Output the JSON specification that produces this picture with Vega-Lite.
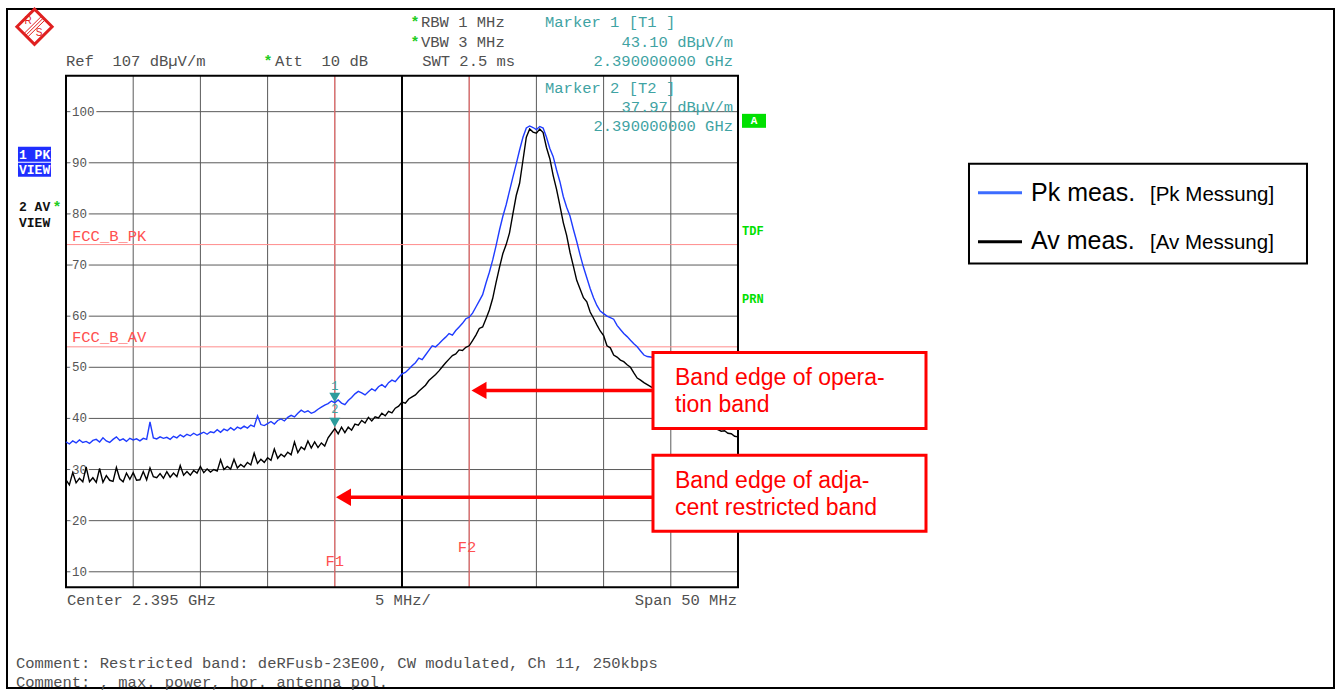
{
"$schema":"https://vega.github.io/schema/vega-lite/v6.json",
"width":1341,"height":691,
"autosize":{"type":"fit","contains":"padding"},
"padding":0,
"background":"white",
"config":{"view":{"stroke":null},"text":{"font":"Liberation Mono"}},
"datasets":{
"trace":[
{"f":2370.00,"pk":35.4,"av":28.0},{"f":2370.25,"pk":35.0,"av":27.0},{"f":2370.50,"pk":35.6,"av":29.4},{"f":2370.75,"pk":35.2,"av":27.4},
{"f":2371.00,"pk":35.8,"av":28.3},{"f":2371.25,"pk":35.3,"av":27.6},{"f":2371.50,"pk":35.5,"av":30.5},{"f":2371.75,"pk":35.1,"av":27.6},
{"f":2372.00,"pk":35.7,"av":28.4},{"f":2372.25,"pk":35.9,"av":27.5},{"f":2372.50,"pk":35.4,"av":30.2},{"f":2372.75,"pk":36.2,"av":27.5},
{"f":2373.00,"pk":35.6,"av":28.8},{"f":2373.25,"pk":35.3,"av":27.9},{"f":2373.50,"pk":35.9,"av":27.7},{"f":2373.75,"pk":36.4,"av":30.4},
{"f":2374.00,"pk":35.7,"av":28.2},{"f":2374.25,"pk":36.0,"av":27.6},{"f":2374.50,"pk":35.5,"av":29.3},{"f":2374.75,"pk":36.1,"av":28.1},
{"f":2375.00,"pk":35.8,"av":29.4},{"f":2375.25,"pk":36.0,"av":27.9},{"f":2375.50,"pk":35.6,"av":28.0},{"f":2375.75,"pk":36.1,"av":29.6},
{"f":2376.00,"pk":35.9,"av":28.0},{"f":2376.25,"pk":39.3,"av":30.3},{"f":2376.50,"pk":36.2,"av":28.6},{"f":2376.75,"pk":36.0,"av":28.4},
{"f":2377.00,"pk":36.4,"av":29.2},{"f":2377.25,"pk":36.1,"av":28.3},{"f":2377.50,"pk":36.3,"av":29.6},{"f":2377.75,"pk":35.9,"av":28.5},
{"f":2378.00,"pk":36.5,"av":29.3},{"f":2378.25,"pk":36.2,"av":28.6},{"f":2378.50,"pk":36.8,"av":30.8},{"f":2378.75,"pk":36.4,"av":28.9},
{"f":2379.00,"pk":36.9,"av":29.6},{"f":2379.25,"pk":36.6,"av":28.9},{"f":2379.50,"pk":37.1,"av":29.8},{"f":2379.75,"pk":36.7,"av":29.3},
{"f":2380.00,"pk":37.0,"av":30.6},{"f":2380.25,"pk":37.3,"av":29.4},{"f":2380.50,"pk":36.9,"av":30.1},{"f":2380.75,"pk":37.4,"av":29.5},
{"f":2381.00,"pk":37.2,"av":30.0},{"f":2381.25,"pk":37.8,"av":29.7},{"f":2381.50,"pk":37.3,"av":31.9},{"f":2381.75,"pk":37.9,"av":30.0},
{"f":2382.00,"pk":37.6,"av":30.6},{"f":2382.25,"pk":38.2,"av":30.1},{"f":2382.50,"pk":37.7,"av":32.0},{"f":2382.75,"pk":38.3,"av":30.3},
{"f":2383.00,"pk":38.0,"av":31.0},{"f":2383.25,"pk":38.5,"av":30.5},{"f":2383.50,"pk":38.1,"av":31.4},{"f":2383.75,"pk":38.7,"av":30.9},
{"f":2384.00,"pk":38.4,"av":33.2},{"f":2384.25,"pk":40.5,"av":31.2},{"f":2384.50,"pk":38.8,"av":32.0},{"f":2384.75,"pk":38.6,"av":31.4},
{"f":2385.00,"pk":39.0,"av":32.3},{"f":2385.25,"pk":39.4,"av":31.8},{"f":2385.50,"pk":38.9,"av":34.0},{"f":2385.75,"pk":39.6,"av":32.2},
{"f":2386.00,"pk":39.9,"av":33.0},{"f":2386.25,"pk":39.5,"av":32.5},{"f":2386.50,"pk":40.2,"av":33.4},{"f":2386.75,"pk":40.6,"av":32.9},
{"f":2387.00,"pk":40.3,"av":35.4},{"f":2387.25,"pk":41.0,"av":33.3},{"f":2387.50,"pk":41.6,"av":34.4},{"f":2387.75,"pk":41.2,"av":33.9},
{"f":2388.00,"pk":41.5,"av":35.6},{"f":2388.25,"pk":41.0,"av":34.2},{"f":2388.50,"pk":41.3,"av":35.4},{"f":2388.75,"pk":41.8,"av":34.3},
{"f":2389.00,"pk":42.2,"av":35.2},{"f":2389.25,"pk":42.6,"av":34.6},{"f":2389.50,"pk":42.9,"av":36.2},{"f":2389.75,"pk":43.4,"av":37.1},
{"f":2390.00,"pk":43.1,"av":38.0},{"f":2390.25,"pk":43.6,"av":37.0},{"f":2390.50,"pk":43.0,"av":38.3},{"f":2390.75,"pk":42.7,"av":37.2},
{"f":2391.00,"pk":43.5,"av":38.3},{"f":2391.25,"pk":44.1,"av":37.7},{"f":2391.50,"pk":44.8,"av":38.9},{"f":2391.75,"pk":45.3,"av":38.7},
{"f":2392.00,"pk":45.0,"av":39.6},{"f":2392.25,"pk":44.6,"av":39.1},{"f":2392.50,"pk":45.2,"av":40.2},{"f":2392.75,"pk":45.8,"av":39.5},
{"f":2393.00,"pk":45.4,"av":40.3},{"f":2393.25,"pk":46.2,"av":40.1},{"f":2393.50,"pk":46.6,"av":41.0},{"f":2393.75,"pk":46.1,"av":40.5},
{"f":2394.00,"pk":47.0,"av":41.4},{"f":2394.25,"pk":47.5,"av":41.1},{"f":2394.50,"pk":47.2,"av":42.0},{"f":2394.75,"pk":48.0,"av":42.4},
{"f":2395.00,"pk":48.7,"av":43.2},{"f":2395.25,"pk":49.0,"av":43.0},{"f":2395.50,"pk":49.6,"av":43.8},{"f":2395.75,"pk":50.3,"av":44.2},
{"f":2396.00,"pk":50.9,"av":44.6},{"f":2396.25,"pk":51.8,"av":45.3},{"f":2396.50,"pk":51.5,"av":45.9},{"f":2396.75,"pk":52.4,"av":46.5},
{"f":2397.00,"pk":53.3,"av":47.4},{"f":2397.25,"pk":54.2,"av":48.0},{"f":2397.50,"pk":54.0,"av":48.6},{"f":2397.75,"pk":54.6,"av":49.3},
{"f":2398.00,"pk":55.3,"av":50.1},{"f":2398.25,"pk":55.9,"av":50.9},{"f":2398.50,"pk":56.6,"av":51.6},{"f":2398.75,"pk":56.3,"av":52.3},
{"f":2399.00,"pk":57.2,"av":52.6},{"f":2399.25,"pk":57.9,"av":53.4},{"f":2399.50,"pk":58.6,"av":53.3},{"f":2399.75,"pk":59.5,"av":53.9},
{"f":2400.00,"pk":59.8,"av":54.2},{"f":2400.25,"pk":60.6,"av":55.2},{"f":2400.50,"pk":61.8,"av":56.3},{"f":2400.75,"pk":63.0,"av":57.6},
{"f":2401.00,"pk":64.2,"av":57.9},{"f":2401.25,"pk":66.5,"av":59.5},{"f":2401.50,"pk":68.6,"av":61.2},{"f":2401.75,"pk":71.0,"av":63.5},
{"f":2402.00,"pk":73.8,"av":66.6},{"f":2402.25,"pk":76.8,"av":69.5},{"f":2402.50,"pk":79.5,"av":72.2},{"f":2402.75,"pk":81.8,"av":74.0},
{"f":2403.00,"pk":84.5,"av":76.3},{"f":2403.25,"pk":87.2,"av":80.0},{"f":2403.50,"pk":89.8,"av":83.6},{"f":2403.75,"pk":92.5,"av":86.0},
{"f":2404.00,"pk":95.0,"av":90.5},{"f":2404.25,"pk":96.8,"av":95.0},{"f":2404.50,"pk":97.2,"av":96.6},{"f":2404.75,"pk":96.9,"av":96.0},
{"f":2405.00,"pk":96.5,"av":95.8},{"f":2405.25,"pk":97.1,"av":96.6},{"f":2405.50,"pk":96.8,"av":95.9},{"f":2405.75,"pk":95.0,"av":93.0},
{"f":2406.00,"pk":92.8,"av":90.8},{"f":2406.25,"pk":91.2,"av":87.5},{"f":2406.50,"pk":88.6,"av":84.8},{"f":2406.75,"pk":86.3,"av":81.6},
{"f":2407.00,"pk":83.4,"av":78.3},{"f":2407.25,"pk":81.3,"av":75.8},{"f":2407.50,"pk":79.6,"av":72.5},{"f":2407.75,"pk":77.0,"av":69.8},
{"f":2408.00,"pk":74.6,"av":67.0},{"f":2408.25,"pk":72.0,"av":65.3},{"f":2408.50,"pk":69.6,"av":63.6},{"f":2408.75,"pk":67.5,"av":62.8},
{"f":2409.00,"pk":65.4,"av":60.8},{"f":2409.25,"pk":63.6,"av":59.6},{"f":2409.50,"pk":62.1,"av":58.3},{"f":2409.75,"pk":61.0,"av":57.1},
{"f":2410.00,"pk":60.5,"av":56.2},{"f":2410.25,"pk":60.0,"av":54.2},{"f":2410.50,"pk":59.7,"av":53.8},{"f":2410.75,"pk":59.4,"av":52.4},
{"f":2411.00,"pk":58.2,"av":52.0},{"f":2411.25,"pk":57.4,"av":51.4},{"f":2411.50,"pk":56.6,"av":51.1},{"f":2411.75,"pk":56.0,"av":50.5},
{"f":2412.00,"pk":55.3,"av":50.0},{"f":2412.25,"pk":54.6,"av":48.9},{"f":2412.50,"pk":54.0,"av":47.9},{"f":2412.75,"pk":53.2,"av":47.5},
{"f":2413.00,"pk":52.4,"av":47.0},{"f":2413.25,"pk":52.1,"av":46.6},{"f":2413.50,"pk":52.0,"av":46.2},{"f":2413.75,"pk":51.9,"av":45.8},
{"f":2414.00,"pk":51.7,"av":45.0},{"f":2414.25,"pk":51.4,"av":44.6},{"f":2414.50,"pk":51.2,"av":44.0},{"f":2414.75,"pk":51.0,"av":43.3},
{"f":2415.00,"pk":50.7,"av":42.9},{"f":2415.25,"pk":50.4,"av":42.3},{"f":2415.50,"pk":50.2,"av":41.8},{"f":2415.75,"pk":49.9,"av":41.4},
{"f":2416.00,"pk":49.7,"av":40.9},{"f":2416.25,"pk":49.4,"av":40.5},{"f":2416.50,"pk":49.2,"av":40.1},{"f":2416.75,"pk":49.0,"av":39.8},
{"f":2417.00,"pk":48.8,"av":39.4},{"f":2417.25,"pk":48.6,"av":39.1},{"f":2417.50,"pk":48.4,"av":38.8},{"f":2417.75,"pk":48.2,"av":38.5},
{"f":2418.00,"pk":48.0,"av":38.3},{"f":2418.25,"pk":47.8,"av":38.0},{"f":2418.50,"pk":47.6,"av":37.8},{"f":2418.75,"pk":47.4,"av":37.5},
{"f":2419.00,"pk":47.2,"av":37.6},{"f":2419.25,"pk":47.0,"av":37.1},{"f":2419.50,"pk":46.8,"av":37.0},{"f":2419.75,"pk":46.6,"av":36.5},
{"f":2420.00,"pk":46.4,"av":36.4}
],
"ticks":[{"f":2370.446,"db":100,"t":"100"},{"f":2370.446,"db":90,"t":"90"},{"f":2370.446,"db":80,"t":"80"},{"f":2370.446,"db":70,"t":"70"},{"f":2370.446,"db":60,"t":"60"},{"f":2370.446,"db":50,"t":"50"},{"f":2370.446,"db":40,"t":"40"},{"f":2370.446,"db":30,"t":"30"},{"f":2370.446,"db":20,"t":"20"},{"f":2370.446,"db":10,"t":"10"}]
},
"encoding":{
"x":{"field":"f","type":"quantitative","scale":{"domain":[2365.0893,2464.8661],"nice":false,"zero":false},"axis":null},
"y":{"field":"db","type":"quantitative","scale":{"domain":[-13.12,121.84],"nice":false,"zero":false},"axis":null}
},
"layer":[
{"data":{"values":[{"f":2365.61,"f2":2464.345,"db":120.082,"db2":-12.73}]},"mark":{"type":"rect","fill":"white","stroke":"black","strokeWidth":2},"encoding":{"x2":{"field":"f2"},"y2":{"field":"db2"}}},
{"data":{"values":[{"f":2375,"db":7,"db2":107},{"f":2380,"db":7,"db2":107},{"f":2385,"db":7,"db2":107},{"f":2390,"db":7,"db2":107},{"f":2400,"db":7,"db2":107},{"f":2405,"db":7,"db2":107},{"f":2410,"db":7,"db2":107},{"f":2415,"db":7,"db2":107}]},"mark":{"type":"rule","color":"#5a5a5a","strokeWidth":1},"encoding":{"y2":{"field":"db2"}}},
{"data":{"values":[{"db":10,"f":2370,"f2":2420},{"db":20,"f":2370,"f2":2420},{"db":30,"f":2370,"f2":2420},{"db":40,"f":2370,"f2":2420},{"db":50,"f":2370,"f2":2420},{"db":60,"f":2370,"f2":2420},{"db":70,"f":2370,"f2":2420},{"db":80,"f":2370,"f2":2420},{"db":90,"f":2370,"f2":2420},{"db":100,"f":2370,"f2":2420}]},"mark":{"type":"rule","color":"#5a5a5a","strokeWidth":1},"encoding":{"x2":{"field":"f2"}}},
{"data":{"values":[{"f":2395,"db":7,"db2":107}]},"mark":{"type":"rule","color":"black","strokeWidth":2},"encoding":{"y2":{"field":"db2"}}},
{"data":{"values":[{"f":2390,"db":7,"db2":107},{"f":2400,"db":7,"db2":107}]},"mark":{"type":"rule","color":"#ff6a6a","strokeWidth":1},"encoding":{"y2":{"field":"db2"}}},
{"data":{"values":[{"db":74,"f":2370,"f2":2420},{"db":54,"f":2370,"f2":2420}]},"mark":{"type":"rule","color":"#ff8c8c","strokeWidth":1},"encoding":{"x2":{"field":"f2"}}},
{"data":{"values":[{"f":2370,"f2":2420,"db":7,"db2":107}]},"mark":{"type":"rect","fillOpacity":0,"stroke":"black","strokeWidth":2},"encoding":{"x2":{"field":"f2"},"y2":{"field":"db2"}}},
{"data":{"name":"ticks"},"mark":{"type":"text","align":"left","baseline":"middle","fontSize":12.5,"fill":"white","stroke":"white","strokeWidth":5},"encoding":{"text":{"field":"t"}}},
{"data":{"name":"ticks"},"mark":{"type":"text","align":"left","baseline":"middle","fontSize":12.5,"fill":"#555555"},"encoding":{"text":{"field":"t"}}},
{"data":{"values":[{"f":2370.446,"db":75.746,"t":"FCC_B_PK"},{"f":2370.446,"db":56.02,"t":"FCC_B_AV"}]},"mark":{"type":"text","align":"left","baseline":"middle","fontSize":15.5,"fill":"#ff5050"},"encoding":{"text":{"field":"t"}}},
{"data":{"values":[{"f":2390,"db":12.074,"t":"F1"},{"f":2399.836,"db":14.809,"t":"F2"}]},"mark":{"type":"text","align":"center","baseline":"middle","fontSize":15.5,"fill":"#ff5050"},"encoding":{"text":{"field":"t"}}},
{"data":{"name":"trace"},"transform":[{"fold":["pk","av"],"as":["s","db"]}],"mark":{"type":"line","strokeWidth":1.4},"encoding":{"color":{"field":"s","type":"nominal","scale":{"domain":["pk","av"],"range":["#1f3cff","#000000"]},"legend":null}}},
{"data":{"values":[{"f":2390,"db":44.106},{"f":2390,"db":39.223}]},"mark":{"type":"point","shape":"triangle-down","filled":true,"size":120,"opacity":1,"color":"#2e9c9c"}},
{"data":{"values":[{"f":2390,"db":46.254,"t":"1"},{"f":2390,"db":41.762,"t":"2"}]},"mark":{"type":"text","align":"center","baseline":"middle","fontSize":12,"fill":"#3fa3a3"},"encoding":{"text":{"field":"t"}}},
{"data":{"values":[{"f":2413.675,"f2":2433.988,"db":52.895,"db2":38.051},{"f":2413.675,"f2":2433.988,"db":32.777,"db2":17.934}]},"mark":{"type":"rect","fill":"white","stroke":"#ff0000","strokeWidth":3},"encoding":{"x2":{"field":"f2"},"y2":{"field":"db2"}}},
{"data":{"values":[{"f":2400.9,"f2":2413.675,"db":45.473},{"f":2390.8,"f2":2413.675,"db":24.574}]},"mark":{"type":"rule","color":"#ff0000","strokeWidth":3.5},"encoding":{"x2":{"field":"f2"}}},
{"data":{"values":[{"f":2400.729,"db":45.473},{"f":2390.647,"db":24.574}]},"mark":{"type":"point","shape":"triangle-left","filled":true,"size":300,"opacity":1,"color":"#ff0000"}},
{"data":{"values":[{"f":2415.312,"db":46.449,"t":"Band edge of opera-"},{"f":2415.312,"db":41.176,"t":"tion band"},{"f":2415.312,"db":26.332,"t":"Band edge of adja-"},{"f":2415.312,"db":21.059,"t":"cent restricted band"}]},"mark":{"type":"text","align":"left","baseline":"alphabetic","font":"Liberation Sans","fontSize":23,"fill":"#ff0000"},"encoding":{"text":{"field":"t"}}},
{"data":{"values":[
{"f":2396.414,"db":117.543,"t":"RBW 1 MHz"},
{"f":2396.414,"db":113.637,"t":"VBW 3 MHz"},
{"f":2396.5,"db":109.926,"t":"SWT 2.5 ms"},
{"f":2370.0,"db":109.926,"t":"Ref\u00a0\u00a0107 dBµV/m"},
{"f":2385.55,"db":109.926,"t":"Att\u00a0\u00a010 dB"},
{"f":2370.074,"db":4.457,"t":"Center 2.395 GHz"},
{"f":2392.991,"db":4.457,"t":"5 MHz/"},
{"f":2366.279,"db":-7.848,"t":"Comment: Restricted band: deRFusb-23E00, CW modulated, Ch 11, 250kbps"},
{"f":2366.279,"db":-11.558,"t":"Comment: , max. power, hor. antenna pol."}
]},"mark":{"type":"text","align":"left","baseline":"middle","fontSize":15.5,"fill":"#505050"},"encoding":{"text":{"field":"t"}}},
{"data":{"values":[{"f":2419.925,"db":4.457,"t":"Span 50 MHz"}]},"mark":{"type":"text","align":"right","baseline":"middle","fontSize":15.5,"fill":"#505050"},"encoding":{"text":{"field":"t"}}},
{"data":{"values":[{"f":2405.64,"db":117.543,"t":"Marker 1 [T1 ]"},{"f":2405.64,"db":104.652,"t":"Marker 2 [T2 ]"}]},"mark":{"type":"text","align":"left","baseline":"middle","fontSize":15.5,"fill":"#3fa3a3"},"encoding":{"text":{"field":"t"}}},
{"data":{"values":[{"f":2419.628,"db":113.637,"t":"43.10 dBµV/m"},{"f":2419.628,"db":109.926,"t":"2.390000000 GHz"},{"f":2419.628,"db":100.942,"t":"37.97 dBµV/m"},{"f":2419.628,"db":97.231,"t":"2.390000000 GHz"}]},"mark":{"type":"text","align":"right","baseline":"middle","fontSize":15.5,"fill":"#3fa3a3"},"encoding":{"text":{"field":"t"}}},
{"data":{"values":[{"f":2395.967,"db":117.543},{"f":2395.967,"db":113.637},{"f":2385.03,"db":109.926},{"f":2369.33,"db":81.41}]},"mark":{"type":"text","align":"center","baseline":"middle","fontSize":15,"fontWeight":"bold","fill":"#22cc22","text":"*"}},
{"data":{"values":[{"f":2366.428,"f2":2368.884,"db":93.129,"db2":90.199},{"f":2366.428,"f2":2368.884,"db":90.004,"db2":87.27}]},"mark":{"type":"rect","fill":"#1f2fff"},"encoding":{"x2":{"field":"f2"},"y2":{"field":"db2"}}},
{"data":{"values":[{"f":2366.503,"db":91.567,"t":"1 PK"},{"f":2366.503,"db":88.637,"t":"VIEW"}]},"mark":{"type":"text","align":"left","baseline":"middle","fontSize":13,"fontWeight":"bold","fill":"white"},"encoding":{"text":{"field":"t"}}},
{"data":{"values":[{"f":2366.503,"db":81.41,"t":"2 AV"},{"f":2366.503,"db":78.285,"t":"VIEW"}]},"mark":{"type":"text","align":"left","baseline":"middle","fontSize":13,"fontWeight":"bold","fill":"#111111"},"encoding":{"text":{"field":"t"}}},
{"data":{"values":[{"f":2420.297,"f2":2422.083,"db":99.574,"db2":96.84}]},"mark":{"type":"rect","fill":"#00e000"},"encoding":{"x2":{"field":"f2"},"y2":{"field":"db2"}}},
{"data":{"values":[{"f":2421.19,"db":98.207,"t":"A"}]},"mark":{"type":"text","align":"center","baseline":"middle","fontSize":11,"fontWeight":"bold","fill":"white"},"encoding":{"text":{"field":"t"}}},
{"data":{"values":[{"f":2420.297,"db":76.723,"t":"TDF"},{"f":2420.297,"db":63.442,"t":"PRN"}]},"mark":{"type":"text","align":"left","baseline":"middle","fontSize":12,"fontWeight":"bold","fill":"#00e000"},"encoding":{"text":{"field":"t"}}},
{"data":{"values":[{"f":2437.187,"f2":2462.336,"db":89.809,"db2":70.277}]},"mark":{"type":"rect","fill":"white","stroke":"black","strokeWidth":2},"encoding":{"x2":{"field":"f2"},"y2":{"field":"db2"}}},
{"data":{"values":[{"f":2437.857,"f2":2441.131,"db":84.145}]},"mark":{"type":"rule","color":"#3c6cff","strokeWidth":3},"encoding":{"x2":{"field":"f2"}}},
{"data":{"values":[{"f":2437.857,"f2":2441.131,"db":74.574}]},"mark":{"type":"rule","color":"#000000","strokeWidth":3},"encoding":{"x2":{"field":"f2"}}},
{"data":{"values":[{"f":2441.801,"db":82.582,"t":"Pk meas."},{"f":2441.801,"db":73.207,"t":"Av meas."}]},"mark":{"type":"text","align":"left","baseline":"alphabetic","font":"Liberation Sans","fontSize":25,"fill":"black"},"encoding":{"text":{"field":"t"}}},
{"data":{"values":[{"f":2450.655,"db":82.582,"t":"[Pk Messung]"},{"f":2450.655,"db":73.207,"t":"[Av Messung]"}]},"mark":{"type":"text","align":"left","baseline":"alphabetic","font":"Liberation Sans","fontSize":20.5,"fill":"black"},"encoding":{"text":{"field":"t"}}},
{"data":{"values":[{"f":2367.656,"db":116.606}]},"mark":{"type":"point","shape":"diamond","filled":false,"size":1240,"opacity":1,"color":"#e02020","strokeWidth":3}},
{"data":{"values":[{"f":2366.994,"db":114.887,"f2":2368.318,"db2":118.324},{"f":2367.128,"db":114.535,"f2":2368.452,"db2":117.973},{"f":2366.86,"db":115.238,"f2":2368.184,"db2":118.676}]},"mark":{"type":"rule","color":"#e02020","strokeWidth":1},"encoding":{"x2":{"field":"f2"},"y2":{"field":"db2"}}},
{"data":{"values":[{"f":2367.172,"db":117.738,"t":"R"},{"f":2367.991,"db":115.395,"t":"S"}]},"mark":{"type":"text","align":"center","baseline":"middle","font":"Liberation Sans","fontSize":10,"fill":"#e02020"},"encoding":{"text":{"field":"t"}}}
]
}
